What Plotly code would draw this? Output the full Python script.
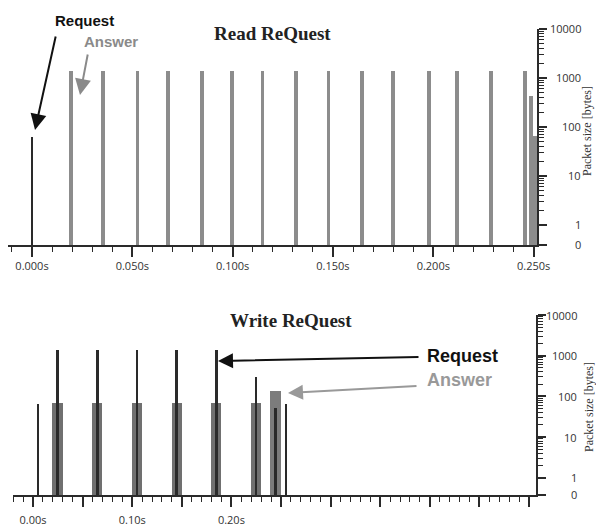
import plotly.graph_objects as go
import math

# ---------------- data ----------------
# Read request (top panel)
read_request_t = [0.0]
read_request_size = [63]
read_answer_t = [0.0194, 0.0354, 0.0526, 0.0678, 0.0847, 0.0997, 0.1149, 0.1316,
                 0.1478, 0.1645, 0.1800, 0.1979, 0.2119, 0.2288, 0.2458, 0.2488, 0.2507]
read_answer_size = [1390, 1390, 1390, 1390, 1390, 1390, 1390, 1390,
                    1390, 1390, 1390, 1390, 1390, 1390, 1390, 430, 65]

# Write request (bottom panel)
write_request_t = [0.0053, 0.0249, 0.0652, 0.1051, 0.1449, 0.1852, 0.2251, 0.2447, 0.2550]
write_request_size = [65, 1390, 1390, 1390, 1390, 1390, 307, 51, 65]
write_answer_t = [0.0247, 0.0648, 0.1048, 0.1452, 0.1848, 0.2245]
write_answer_size = [70, 70, 70, 70, 70, 70]
write_final_answer_t = [0.2443]
write_final_answer_size = [136]

# axis ticks
read_tick_vals = [0.0, 0.05, 0.10, 0.15, 0.20, 0.25]
read_tick_text = ["0.000s", "0.050s", "0.100s", "0.150s", "0.200s", "0.250s"]
write_tick_vals = [0.0, 0.05, 0.10, 0.15, 0.20, 0.25, 0.30, 0.35, 0.40, 0.45, 0.50]
write_tick_text = ["0.00s", "", "0.10s", "", "0.20s", "", "", "", "", "", ""]
size_tick_vals = [1, 10, 100, 1000, 10000]
size_tick_text = ["1", "10", "100", "1000", "10000"]

W, H = 596, 529
def px(x):
    return x / W
def py(y):
    return 1 - y / H

BLACK = "#2a2a2a"
GRAY = "#8c8c8c"
DGRAY = "#707070"

fig = go.Figure()
fig.add_trace(go.Bar(x=read_answer_t, y=read_answer_size, width=[0.0019] * len(read_answer_t),
                     marker=dict(color=GRAY, line=dict(width=0)), xaxis="x", yaxis="y"))
fig.add_trace(go.Bar(x=read_request_t, y=read_request_size, width=[0.001],
                     marker=dict(color=BLACK, line=dict(width=0)), xaxis="x", yaxis="y"))
fig.add_trace(go.Bar(x=write_answer_t, y=write_answer_size, width=[0.0104] * len(write_answer_t),
                     marker=dict(color=DGRAY, line=dict(width=0)), xaxis="x2", yaxis="y2"))
fig.add_trace(go.Bar(x=write_final_answer_t, y=write_final_answer_size, width=[0.0106],
                     marker=dict(color="#7c7c7c", line=dict(width=0)), xaxis="x2", yaxis="y2"))
fig.add_trace(go.Bar(x=write_request_t, y=write_request_size, width=[0.0019] * len(write_request_t),
                     marker=dict(color=BLACK, line=dict(width=0)), xaxis="x2", yaxis="y2"))

tickfont = dict(family="Open Sans", size=11, color="#333")

READ_Y_LOW = -0.41
WRITE_Y_LOW = -0.42

xcommon = dict(showline=True, linecolor=BLACK, linewidth=1.5, ticks="outside", ticklen=10,
               tickwidth=1.5, tickcolor=BLACK, showgrid=False, zeroline=False, automargin=False,
               tickfont=tickfont, tickmode="array",
               minor=dict(ticks="outside", ticklen=5, tickwidth=1.2, tickcolor=BLACK,
                          dtick=0.01, tick0=0, showgrid=False))

minor_y = [m * 10 ** d for d in range(0, 4) for m in range(2, 10)]
ycommon = dict(type="log", side="right", showline=True, linecolor=BLACK, linewidth=1.5,
               ticks="outside", ticklen=8, tickwidth=1.5, tickcolor=BLACK, automargin=False,
               showgrid=False, zeroline=False, showticklabels=False, tickmode="array",
               minor=dict(ticks="outside", ticklen=5, tickwidth=1, tickcolor=BLACK,
                          tickmode="array", tickvals=minor_y, showgrid=False))

fig.update_layout(
    template="none",
    width=W, height=H, autosize=False,
    margin=dict(l=0, r=0, t=0, b=0, autoexpand=False),
    paper_bgcolor="white", plot_bgcolor="white",
    showlegend=False, barmode="overlay", bargap=0,
    xaxis=dict(domain=[px(8), px(537)], range=[-0.01196, 0.2517], anchor="y",
               tickvals=read_tick_vals, ticktext=read_tick_text, ticklabelstandoff=0, **xcommon),
    yaxis=dict(domain=[py(245), py(29)], range=[READ_Y_LOW - 0.002, 4.0], anchor="x",
               tickvals=[10 ** READ_Y_LOW] + size_tick_vals, **ycommon),
    xaxis2=dict(domain=[px(13), px(536)], range=[-0.0202, 0.5071], anchor="y2",
                tickvals=write_tick_vals, ticktext=write_tick_text, ticklabelstandoff=4, **xcommon),
    yaxis2=dict(domain=[py(495), py(315)], range=[WRITE_Y_LOW - 0.002, 4.0], anchor="x2",
                tickvals=[10 ** WRITE_Y_LOW] + size_tick_vals, **ycommon),
)

ann = []
# y tick labels, right aligned
for lv, t in zip([READ_Y_LOW] + [math.log10(v) for v in size_tick_vals], ["0"] + size_tick_text):
    ann.append(dict(x=px(583), xref="paper", xanchor="right", y=lv, yref="y",
                    yanchor="middle", text=t, showarrow=False, font=tickfont))
for lv, t in zip([WRITE_Y_LOW] + [math.log10(v) for v in size_tick_vals], ["0"] + size_tick_text):
    ann.append(dict(x=px(579), xref="paper", xanchor="right", y=lv, yref="y2",
                    yanchor="middle", text=t, showarrow=False, font=tickfont))
# axis titles
for yy, xx in [(131, 587), (407, 589)]:
    ann.append(dict(x=px(xx), y=py(yy), xref="paper", yref="paper", text="Packet size [bytes]",
                    textangle=-90, showarrow=False, xanchor="center", yanchor="middle",
                    font=dict(family="Liberation Serif", size=12, color="#333")))

def label(x, y, text, size, color, family, xanchor="center"):
    return dict(x=px(x), y=py(y), xref="paper", yref="paper", text=text, showarrow=False,
                xanchor=xanchor, yanchor="middle", font=dict(family=family, size=size, color=color))

def arrow(x, y, tx, ty, color, size):
    return dict(x=px(x), y=py(y), xref="paper", yref="paper", text="", showarrow=True,
                ax=tx - x, ay=ty - y, arrowhead=2, arrowsize=size, arrowwidth=2, arrowcolor=color,
                xanchor="center", yanchor="middle")

# panel titles
ann.append(label(272, 34, "<b>Read ReQuest</b>", 19, "#222", "Liberation Serif"))
ann.append(label(291, 320, "<b>Write ReQuest</b>", 19, "#222", "Liberation Serif"))
# top labels + arrows
ann.append(label(84, 20, "<b>Request</b>", 15, "#111", "Liberation Sans"))
ann.append(label(111, 42, "<b>Answer</b>", 15, "#8a8a8a", "Liberation Sans"))
ann.append(arrow(35, 130, 56, 35, "#111", 1.6))
ann.append(arrow(80, 95, 88, 53, "#8a8a8a", 1.6))
# bottom labels + arrows
ann.append(label(425, 356, "<b>Request</b>", 18, "#111", "Liberation Sans", "left"))
ann.append(label(425, 380, "<b>Answer</b>", 18, "#999", "Liberation Sans", "left"))
ann.append(arrow(218, 361, 420, 357, "#111", 1.5))
ann.append(arrow(288, 393, 418, 386, "#999", 1.5))

fig.update_layout(annotations=ann)

fig.write_html(
    "out.html",
    config={"displayModeBar": False, "responsive": False},
    post_script=("document.documentElement.style.overflow='hidden';"
                 "document.body.style.margin='0';document.body.style.overflow='hidden';"
                 "var gd=document.getElementById('{plot_id}');"
                 "Plotly.relayout(gd,{width:596,height:529});"),
)
